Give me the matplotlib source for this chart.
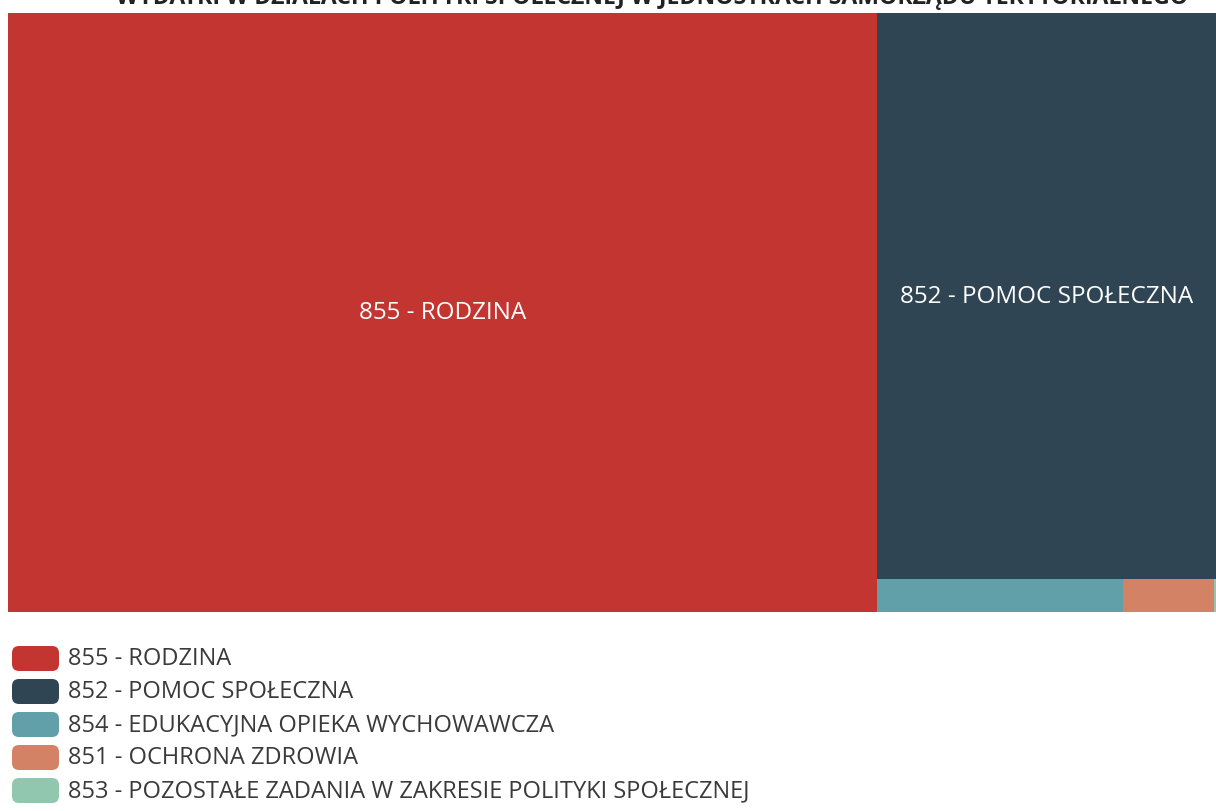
import matplotlib
matplotlib.use("Agg")
import matplotlib.pyplot as plt
from matplotlib.patches import Rectangle, FancyBboxPatch

plt.rcParams['font.family'] = ['Open Sans', 'DejaVu Sans']

title = "WYDATKI W DZIAŁACH POLITYKI SPOŁECZNEJ W JEDNOSTKACH SAMORZĄDU TERYTORIALNEGO"
categories = ["855 - RODZINA", "852 - POMOC SPOŁECZNA", "854 - EDUKACYJNA OPIEKA WYCHOWAWCZA",
              "851 - OCHRONA ZDROWIA", "853 - POZOSTAŁE ZADANIA W ZAKRESIE POLITYKI SPOŁECZNEJ"]
values = [71.94, 26.52, 1.13, 0.415, 0.01]
colors = ['#c23531', '#2f4554', '#61a0a8', '#d48265', '#91c7ae']
show_label = [True, True, False, False, False]


def worst(row, w):
    s = sum(row)
    return max(max(w * w * r / (s * s), (s * s) / (w * w * r)) for r in row)


def squarify(vals, x, y, dx, dy):
    total = sum(vals)
    areas = [v * dx * dy / total for v in vals]
    rects = []
    while areas:
        w = min(dx, dy)
        row = [areas[0]]
        i = 1
        while i < len(areas) and worst(row + [areas[i]], w) <= worst(row, w):
            row.append(areas[i])
            i += 1
        areas = areas[i:]
        s = sum(row)
        if dx >= dy:  # column on the left
            cw = s / dy
            cy = y
            for a in row:
                h = a / cw
                rects.append((x, cy, cw, h))
                cy += h
            x += cw
            dx -= cw
        else:  # row on top
            rh = s / dx
            cx = x
            for a in row:
                ww = a / rh
                rects.append((cx, y, ww, rh))
                cx += ww
            y += rh
            dy -= rh
    return rects


fig = plt.figure(figsize=(12.16, 8.12), dpi=100)
ax = fig.add_axes([0, 0, 1, 1])
ax.set_xlim(0, 1216)
ax.set_ylim(812, 0)
ax.axis('off')

ax.text(652, 4, title, ha='center', va='baseline', fontsize=16.6, fontweight='bold',
        color='#222222')

rects = squarify(values, 8, 14, 1208, 599)
for (rx, ry, rw, rh), c, lab, sl in zip(rects, colors, categories, show_label):
    ax.add_patch(Rectangle((rx, ry), rw, rh, facecolor=c, edgecolor='none'))
    if sl:
        ax.text(rx + rw / 2, ry + rh / 2, lab, ha='center', va='center',
                color='white', fontsize=17.5)

for i, (lab, c) in enumerate(zip(categories, colors)):
    yc = 659.5 + i * 33
    ax.add_patch(FancyBboxPatch((12, yc - 12.5), 47, 25,
                                boxstyle="round,pad=0,rounding_size=7",
                                facecolor=c, edgecolor='none'))
    ax.text(68, yc, lab, ha='left', va='center', fontsize=17, color='#3a3a3a')

fig.savefig('out.png', dpi=100)
